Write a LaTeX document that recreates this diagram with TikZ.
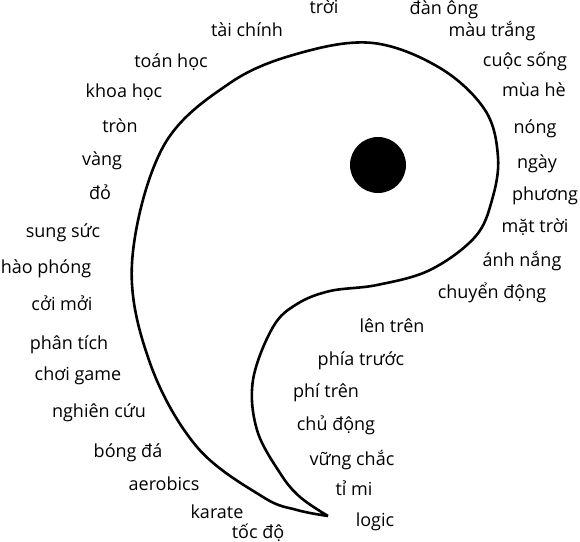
\documentclass[tikz,border=0pt]{standalone}
\usepackage{fontspec}
\setmainfont{Open Sans}
\tikzset{word/.style={anchor=base, inner sep=0pt, font=\fontsize{9}{10}\selectfont}}
\begin{document}
\begin{tikzpicture}[x=0.5pt, y=-0.5pt]
	\useasboundingbox (0,0) rectangle (580,542);
	\draw[line width=1.3pt, line join=round]
		plot[smooth, tension=0.6] coordinates {(328,516) (297,510) (263,497) (197,447) (150,363) (132,263) (163,147) (230,83) (300,53) (373,43) (440,68) (485,110) (498,157) (492,200) (475,237) (430,270) (377,285) (330,291) (297,304) (273,327) (253,380) (257,430) (280,473) (300,497) (328,516)};
	\fill (378,165) circle (28);
	\node[word] (troi) at (324, 13) {trời};
	\node[word] (dan_ong) at (444, 14) {đàn ông};
	\node[word] (mau_trang) at (492, 36) {màu trắng};
	\node[word] (tai_chinh) at (247, 36) {tài chính};
	\node[word] (cuoc_song) at (525, 66) {cuộc sống};
	\node[word] (toan_hoc) at (171, 67) {toán học};
	\node[word] (mua_he) at (534, 96) {mùa hè};
	\node[word] (khoa_hoc) at (124, 97) {khoa học};
	\node[word] (tron) at (120, 132) {tròn};
	\node[word] (nong) at (535, 133) {nóng};
	\node[word] (vang) at (102, 165) {vàng};
	\node[word] (ngay) at (537, 168) {ngày};
	\node[word] (do) at (100, 199) {đỏ};
	\node[word] (phuong) at (545, 200) {phương};
	\node[word] (mat_troi) at (535, 232) {mặt trời};
	\node[word] (sung_suc) at (63, 237) {sung sức};
	\node[word] (anh_nang) at (522, 266) {ánh nắng};
	\node[word] (hao_phong) at (46, 273) {hào phóng};
	\node[word] (chuyen_dong) at (492, 298) {chuyển động};
	\node[word] (coi_moi) at (62, 310) {cởi mởi};
	\node[word] (len_tren) at (392, 332) {lên trên};
	\node[word] (phan_tich) at (69, 349) {phân tích};
	\node[word] (phia_truoc) at (361, 365) {phía trước};
	\node[word] (choi_game) at (78, 380) {chơi game};
	\node[word] (phi_tren) at (326, 397) {phí trên};
	\node[word] (nghien_cuu) at (99, 417) {nghiên cứu};
	\node[word] (chu_dong) at (336, 430) {chủ động};
	\node[word] (bong_da) at (128, 457) {bóng đá};
	\node[word] (vung_chac) at (352, 465) {vững chắc};
	\node[word] (aerobics) at (164, 490) {aerobics};
	\node[word] (ti_mi) at (354, 495) {tỉ mi};
	\node[word] (karate) at (217, 518) {karate};
	\node[word] (logic) at (375, 526) {logic};
	\node[word] (toc_do) at (258, 538) {tốc độ};
\end{tikzpicture}
\end{document}
